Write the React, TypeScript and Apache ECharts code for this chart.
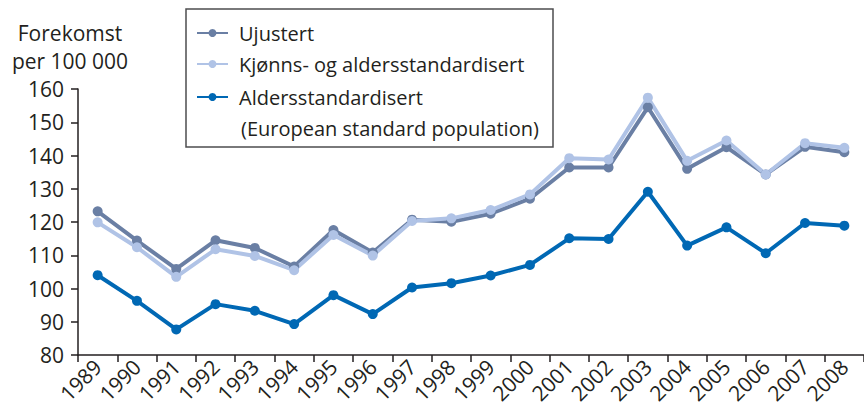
import React, { useEffect, useRef } from "react";
import * as echarts from "echarts";

const years = ["1989","1990","1991","1992","1993","1994","1995","1996","1997","1998","1999","2000","2001","2002","2003","2004","2005","2006","2007","2008"];
const ujustert = [123.2,114.4,105.9,114.5,112.2,106.6,117.6,110.8,120.7,120.1,122.5,127.0,136.4,136.4,154.5,136.0,142.5,134.3,142.6,141.0];
const kjonnsAlders = [119.9,112.4,103.5,111.8,109.8,105.5,116.1,109.9,120.3,121.1,123.6,128.3,139.2,138.8,157.4,138.4,144.5,134.3,143.7,142.3];
const alders = [104.0,96.3,87.7,95.3,93.3,89.3,98.0,92.3,100.3,101.6,103.9,107.1,115.1,114.9,129.1,112.9,118.4,110.6,119.7,118.9];
const seriesNames = ["Ujustert", "Kjønns- og aldersstandardisert", "Aldersstandardisert"];
const yTicks = { min: 80, max: 160, interval: 10 };

const FONT = "'Open Sans', sans-serif";
const TXT = "#231f20";

export default function App() {
  const ref = useRef<HTMLDivElement>(null);
  useEffect(() => {
    if (!ref.current) return;
    const chart = echarts.init(ref.current, null, { renderer: "svg" });
    const mk = (name: string, data: number[], color: string) => ({
      name,
      type: "line",
      data,
      symbol: "circle",
      symbolSize: 10,
      lineStyle: { width: 4, color },
      itemStyle: { color },
      emphasis: { disabled: true },
    });
    const legendTops = [21, 52, 85];
    chart.setOption({
      animation: false,
      textStyle: { fontFamily: FONT },
      grid: { left: 78, right: -7, top: 89, bottom: 52, containLabel: false },
      legend: seriesNames.map((n, i) => ({
        orient: "vertical",
        left: 196,
        top: legendTops[i],
        itemWidth: 31,
        itemHeight: 10,
        padding: 0,
        textStyle: { fontFamily: FONT, fontSize: 20, lineHeight: 24, color: TXT, padding: [0, 0, 0, 6] },
        data: [n],
      })),
      graphic: [
        {
          type: "rect",
          shape: { x: 186, y: 9, width: 367, height: 138 },
          style: { fill: "none", stroke: "#4d4d4f", lineWidth: 1.5 },
        },
        {
          type: "text",
          x: 241,
          y: 128,
          style: { text: "(European standard population)", font: `20px ${FONT}`, fill: TXT, textVerticalAlign: "middle" },
        },
        {
          type: "text",
          x: 70,
          y: 33,
          style: { text: "Forekomst", font: `21px ${FONT}`, fill: TXT, textAlign: "center", textVerticalAlign: "middle" },
        },
        {
          type: "text",
          x: 70,
          y: 61,
          style: { text: "per 100 000", font: `21px ${FONT}`, fill: TXT, textAlign: "center", textVerticalAlign: "middle" },
        },
      ],
      xAxis: {
        type: "category",
        data: years,
        boundaryGap: true,
        axisLine: { lineStyle: { color: TXT, width: 1.5 } },
        axisTick: { show: true, length: 7, lineStyle: { color: TXT, width: 1.5 } },
        axisLabel: { rotate: 45, fontSize: 21, color: TXT, fontFamily: FONT, margin: 8, interval: 0 },
        splitLine: { show: false },
      },
      yAxis: {
        type: "value",
        min: yTicks.min,
        max: yTicks.max,
        interval: yTicks.interval,
        axisLine: { show: true, lineStyle: { color: TXT, width: 1.5 } },
        axisTick: { show: true, length: 7, lineStyle: { color: TXT, width: 1.5 } },
        axisLabel: { fontSize: 21, color: TXT, fontFamily: FONT, margin: 14 },
        splitLine: { show: false },
      },
      series: [
        mk(seriesNames[0], ujustert, "#6a7fa4"),
        mk(seriesNames[1], kjonnsAlders, "#b0c3e6"),
        mk(seriesNames[2], alders, "#0068b4"),
      ],
    });
    return () => chart.dispose();
  }, []);
  return <div ref={ref} style={{ width: 864, height: 407, position: "absolute", left: 0, top: 0 }} />;
}
